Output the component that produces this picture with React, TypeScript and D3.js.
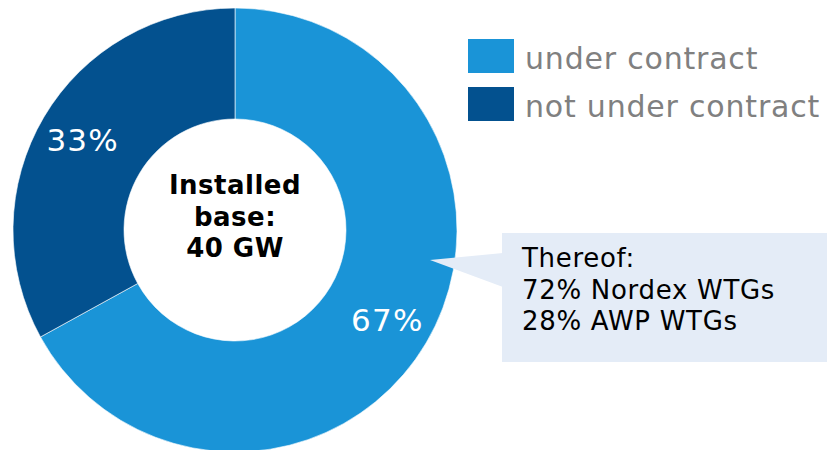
import React from "react";
import * as d3 from "d3";

const categories = ["under contract", "not under contract"];
const values = [67, 33];
const colors = ["#1a94d7", "#03518f"];
const centerLines = ["Installed", "base:", "40 GW"];
const calloutLines = ["Thereof:", "72% Nordex WTGs", "28% AWP WTGs"];

export default function App() {
  const W = 827, H = 450;
  const cx = 235, cy = 230, R = 222, r = 111;
  const pie = d3.pie<number>().sort(null).value((d) => d);
  const arcs = pie(values);
  const arc = d3.arc<d3.PieArcDatum<number>>().innerRadius(r).outerRadius(R);
  const labelArc = d3.arc<d3.PieArcDatum<number>>().innerRadius(177).outerRadius(177);
  const font = "Verdana, 'DejaVu Sans', sans-serif";
  return (
    <svg width={W} height={H} style={{ position: "absolute", left: 0, top: 0, display: "block" }} fontFamily={font}>
      <g transform={`translate(${cx},${cy})`}>
        {arcs.map((a, i) => (
          <path key={i} d={arc(a) || ""} fill={colors[i]} stroke="#ffffff" strokeWidth={0.6} />
        ))}
        {arcs.map((a, i) => {
          const [x, y] = labelArc.centroid(a);
          return (
            <text key={"l" + i} x={x} y={y + 11} textAnchor="middle" fill="#ffffff" fontSize={31} letterSpacing={1.2}>
              {values[i]}%
            </text>
          );
        })}
        {centerLines.map((t, i) => (
          <text key={"c" + i} x={0} y={-36 + i * 31.5} textAnchor="middle" fontWeight="bold" fontSize={26} letterSpacing={0.5} fill="#000">
            {t}
          </text>
        ))}
      </g>
      {categories.map((c, i) => (
        <g key={"lg" + i}>
          <rect x={468} y={39 + i * 48} width={46} height={34} fill={colors[i]} />
          <text x={525} y={69 + i * 48} fontSize={30} letterSpacing={0.8} fill="#808080">
            {c}
          </text>
        </g>
      ))}
      <rect x={502} y={233} width={325} height={129} fill="#e4ecf7" />
      <path d="M430,260 L503,253 L503,287 Z" fill="#e4ecf7" />
      {calloutLines.map((t, i) => (
        <text key={"co" + i} x={522} y={267 + i * 31.5} fontSize={26} letterSpacing={0.7} fill="#000">
          {t}
        </text>
      ))}
    </svg>
  );
}
